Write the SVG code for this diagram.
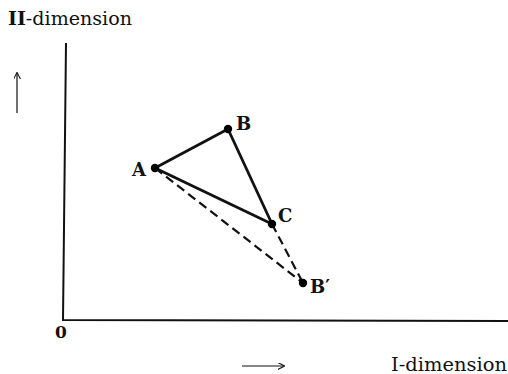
<svg xmlns="http://www.w3.org/2000/svg" width="508" height="374" viewBox="0 0 508 374">
<style>
text{font-family:"DejaVu Serif","Liberation Serif",serif;fill:#111}
.lbl{font-weight:bold;font-size:18px}
.ax{fill:none;stroke:#111;stroke-width:2}
.solid{stroke:#111;stroke-width:2.8;fill:none}
.dash{stroke:#111;stroke-width:2.2;stroke-dasharray:9 5;fill:none}
.thin{stroke:#111;stroke-width:1.2;fill:none}
</style>
<defs>
<marker id="ah" viewBox="0 0 10 10" refX="9" refY="5" markerWidth="7" markerHeight="7" markerUnits="userSpaceOnUse" orient="auto">
<path d="M0,0 L10,5 L0,10" fill="none" stroke="#111" stroke-width="1.5"/>
</marker>
</defs>
<rect width="508" height="374" fill="#fff"/>
<g id="axes">
<path class="ax" d="M66,43 L63,320 L508,321"/>
<text x="55" y="338" font-size="17" font-weight="bold">0</text>
<text x="8" y="25" font-size="19" textLength="124" lengthAdjust="spacingAndGlyphs"><tspan font-weight="bold">II</tspan>-dimension</text>
<text x="391" y="371" font-size="19" textLength="116" lengthAdjust="spacingAndGlyphs">I-dimension</text>
<line class="thin" x1="17" y1="113" x2="17" y2="73" marker-end="url(#ah)"/>
<line class="thin" x1="242" y1="366" x2="284" y2="366" marker-end="url(#ah)"/>
</g>
<g id="connectors">
<line class="solid" x1="155" y1="168" x2="228" y2="129"/>
<line class="solid" x1="228" y1="129" x2="272" y2="224"/>
<line class="solid" x1="155" y1="168" x2="272" y2="224"/>
<line class="dash" x1="155" y1="168" x2="303" y2="283"/>
<line class="dash" x1="272" y1="224" x2="303" y2="283"/>
</g>
<g id="A"><circle cx="155" cy="168" r="4.2"/><text class="lbl" x="132" y="176">A</text></g>
<g id="B"><circle cx="228" cy="129" r="4.2"/><text class="lbl" x="236" y="130">B</text></g>
<g id="C"><circle cx="272" cy="224" r="4.2"/><text class="lbl" x="278" y="222">C</text></g>
<g id="Bp"><circle cx="303" cy="283" r="4.2"/><text class="lbl" x="310" y="293">B′</text></g>
</svg>
